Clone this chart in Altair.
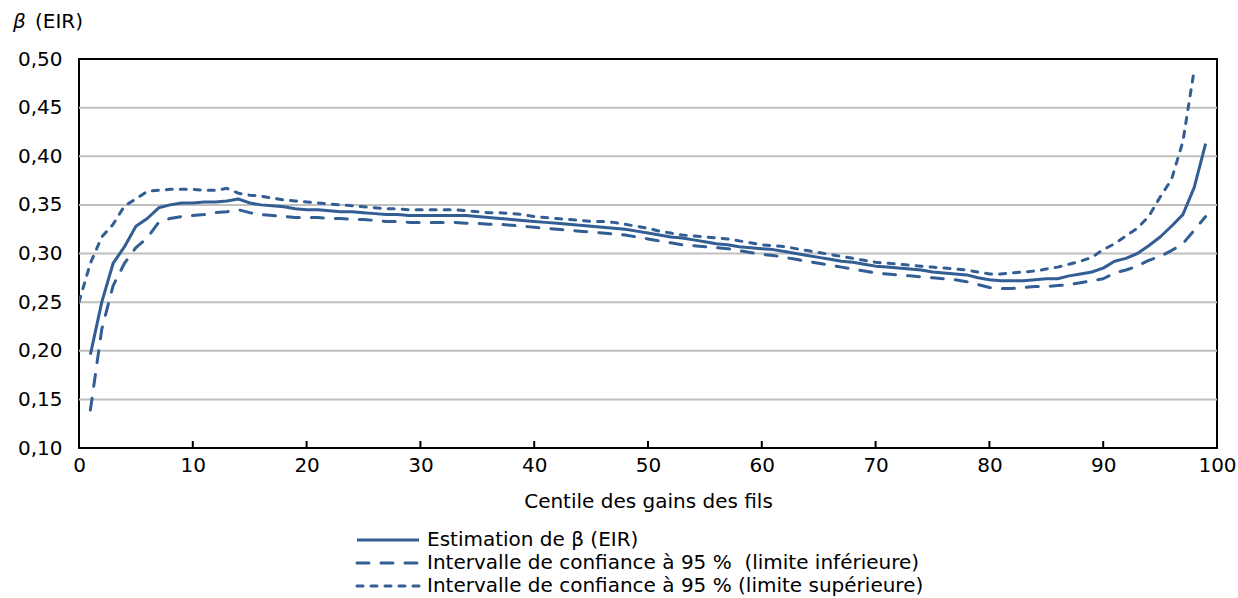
import altair as alt
import pandas as pd

# ---- data ----
est_x = list(range(1, 100))
estimate = [
    0.196, 0.250, 0.290, 0.307, 0.328, 0.336, 0.347, 0.350, 0.352, 0.352,
    0.353, 0.353, 0.354, 0.356, 0.352, 0.350, 0.349, 0.348, 0.346, 0.345,
    0.345, 0.344, 0.343, 0.343, 0.342, 0.341, 0.340, 0.340, 0.339, 0.339,
    0.339, 0.339, 0.339, 0.339, 0.338, 0.337, 0.336, 0.335, 0.334, 0.333,
    0.332, 0.331, 0.330, 0.329, 0.328, 0.327, 0.326, 0.325, 0.323, 0.321,
    0.319, 0.317, 0.316, 0.314, 0.312, 0.310, 0.309, 0.307, 0.306, 0.305,
    0.304, 0.302, 0.300, 0.298, 0.296, 0.294, 0.292, 0.291, 0.289, 0.287,
    0.286, 0.285, 0.284, 0.283, 0.281, 0.280, 0.279, 0.278, 0.275, 0.273,
    0.272, 0.272, 0.272, 0.273, 0.274, 0.274, 0.277, 0.279, 0.281, 0.285,
    0.292, 0.295, 0.300, 0.308, 0.317, 0.328, 0.340, 0.368, 0.413,
]

low_x = list(range(1, 100))
lower = [
    0.139, 0.222, 0.267, 0.290, 0.306, 0.316, 0.332, 0.336, 0.338, 0.339,
    0.340, 0.342, 0.343, 0.345, 0.342, 0.340, 0.339, 0.338, 0.337, 0.337,
    0.337, 0.336, 0.336, 0.335, 0.335, 0.334, 0.333, 0.333, 0.332, 0.332,
    0.332, 0.332, 0.332, 0.331, 0.331, 0.330, 0.330, 0.329, 0.328, 0.327,
    0.326, 0.325, 0.324, 0.323, 0.322, 0.321, 0.320, 0.319, 0.317, 0.315,
    0.313, 0.311, 0.309, 0.308, 0.307, 0.306, 0.305, 0.303, 0.301, 0.299,
    0.298, 0.296, 0.294, 0.292, 0.290, 0.288, 0.286, 0.284, 0.282, 0.280,
    0.279, 0.278, 0.277, 0.276, 0.275, 0.274, 0.273, 0.271, 0.268, 0.265,
    0.264, 0.264, 0.265, 0.266, 0.266, 0.267, 0.268, 0.270, 0.272, 0.274,
    0.280, 0.283, 0.287, 0.293, 0.297, 0.303, 0.310, 0.324, 0.338,
]

up_x = list(range(0, 99))
upper = [
    0.250, 0.290, 0.317, 0.330, 0.349, 0.356, 0.364, 0.365, 0.366, 0.366,
    0.366, 0.365, 0.365, 0.367, 0.362, 0.360, 0.359, 0.357, 0.355, 0.354,
    0.353, 0.352, 0.351, 0.350, 0.349, 0.348, 0.347, 0.346, 0.346, 0.345,
    0.345, 0.345, 0.345, 0.345, 0.344, 0.343, 0.342, 0.342, 0.341, 0.340,
    0.338, 0.337, 0.336, 0.335, 0.334, 0.333, 0.333, 0.332, 0.330, 0.328,
    0.326, 0.323, 0.321, 0.319, 0.318, 0.317, 0.316, 0.315, 0.313, 0.311,
    0.309, 0.308, 0.307, 0.305, 0.303, 0.301, 0.299, 0.297, 0.295, 0.293,
    0.291, 0.290, 0.289, 0.288, 0.287, 0.286, 0.285, 0.284, 0.283, 0.281,
    0.279, 0.279, 0.280, 0.281, 0.282, 0.284, 0.286, 0.289, 0.292, 0.296,
    0.304, 0.310, 0.318, 0.326, 0.338, 0.358, 0.376, 0.415, 0.489,
]

x_ticks = list(range(0, 101, 10))
inner_ticks = list(range(10, 100, 10))
y_ticks = [0.10, 0.15, 0.20, 0.25, 0.30, 0.35, 0.40, 0.45, 0.50]
grid_vals = [0.15, 0.20, 0.25, 0.30, 0.35, 0.40, 0.45]

legend_labels = [
    "Estimation de β (EIR)",
    "Intervalle de confiance à 95 %\u00a0 (limite inférieure)",
    "Intervalle de confiance à 95 % (limite supérieure)",
]
x_title = "Centile des gains des fils"

# ---- styling ----
W, H = 1138, 389
FONT = "DejaVu Sans"
FS = 20
BLUE = "#325e94"
DASH_LOW = [12, 12]
DASH_UP = [6, 8]

xscale = alt.Scale(domain=[0, 100], nice=False, zero=False)
yscale = alt.Scale(domain=[0.10, 0.50], nice=False, zero=False)

xaxis = alt.Axis(values=x_ticks, title=x_title, labelFont=FONT, labelFontSize=FS,
                 labelColor="black", titleFont=FONT, titleFontSize=FS,
                 titleFontWeight="normal", titleColor="black", titlePadding=16,
                 tickSize=0, domain=False, grid=False, labelPadding=7,
                 labelFlush=False, labelOverlap=False)
yaxis = alt.Axis(values=y_ticks, title=None, labelFont=FONT, labelFontSize=FS,
                 labelColor="black", tickSize=0, domain=False, grid=False,
                 labelPadding=17, labelOverlap=False, labelFlush=False,
                 labelExpr="replace(format(datum.value, '.2f'), '.', ',')")

df_est = pd.DataFrame({"x": est_x, "v": estimate})
df_low = pd.DataFrame({"x": low_x, "v": lower})
df_up = pd.DataFrame({"x": up_x, "v": upper})

X = alt.X("x:Q", scale=xscale, axis=xaxis)
Y = alt.Y("v:Q", scale=yscale, axis=yaxis)

grid = alt.Chart(pd.DataFrame({"v": grid_vals})).mark_rule(
    color="#c0c0c0", strokeWidth=2).encode(
    y=Y, x=alt.value(0), x2=alt.value(W))

ticks = alt.Chart(pd.DataFrame({"x": inner_ticks})).mark_rule(
    color="black", strokeWidth=2).encode(
    x=X, y=alt.value(H - 7), y2=alt.value(H))

line_kw = dict(color=BLUE, strokeWidth=3, strokeJoin="round", clip=True)
l_est = alt.Chart(df_est).mark_line(**line_kw).encode(x=X, y=Y)
l_low = alt.Chart(df_low).mark_line(strokeDash=DASH_LOW, strokeCap="round", **line_kw).encode(x=X, y=Y)
l_up = alt.Chart(df_up).mark_line(strokeDash=DASH_UP, strokeCap="round", **line_kw).encode(x=X, y=Y)

one = pd.DataFrame({"a": [0]})

# y-axis title: italic beta + (EIR)
beta = alt.Chart(one).mark_text(text="β", font=FONT, fontSize=FS, fontStyle="italic",
                                align="left", baseline="alphabetic", color="black").encode(
    x=alt.value(-66), y=alt.value(-31))
eir = alt.Chart(one).mark_text(text="(EIR)", font=FONT, fontSize=FS,
                               align="left", baseline="alphabetic", color="black").encode(
    x=alt.value(-44), y=alt.value(-31))

# manual legend
leg_layers = []
row_y = [481, 504, 527]
dashes = [None, DASH_LOW, DASH_UP]
for i, (lab, d) in enumerate(zip(legend_labels, dashes)):
    kw = dict(color=BLUE, strokeWidth=3)
    if d is not None:
        kw["strokeDash"] = d
        kw["strokeCap"] = "round"
    leg_layers.append(alt.Chart(one).mark_rule(**kw).encode(
        x=alt.value(278), x2=alt.value(340), y=alt.value(row_y[i])))
    leg_layers.append(alt.Chart(one).mark_text(
        text=lab, font=FONT, fontSize=FS, align="left", baseline="middle",
        color="black").encode(x=alt.value(348), y=alt.value(row_y[i])))

chart = alt.layer(grid, ticks, l_low, l_up, l_est, beta, eir, *leg_layers).properties(
    width=W, height=H,
    autosize=alt.AutoSizeParams(type="none"),
    padding={"left": 79, "top": 59, "right": 21, "bottom": 150},
    background="white",
).configure_view(stroke="black", strokeWidth=2)

chart.save("out.html", embed_options={"renderer": "svg", "actions": False})
